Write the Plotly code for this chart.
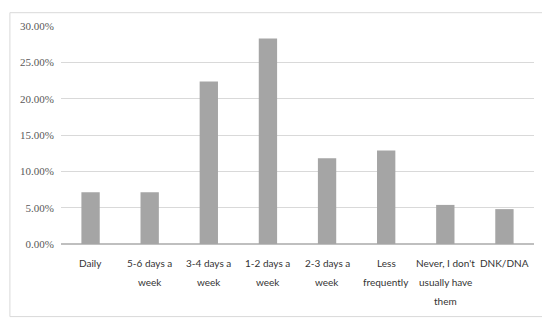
import plotly.graph_objects as go

categories = ["Daily", "5-6 days a week", "3-4 days a week", "1-2 days a week",
              "2-3 days a week", "Less frequently", "Never, I don't usually have them", "DNK/DNA"]
label_lines = [["Daily"], ["5-6 days a", "week"], ["3-4 days a", "week"], ["1-2 days a", "week"],
               ["2-3 days a", "week"], ["Less", "frequently"], ["Never, I don't", "usually have", "them"],
               ["DNK/DNA"]]
values = [0.0713, 0.0713, 0.2237, 0.2829, 0.118, 0.1287, 0.0538, 0.048]
y_ticks = [0, 0.05, 0.10, 0.15, 0.20, 0.25, 0.30]

fig = go.Figure()
fig.add_trace(go.Bar(x=categories, y=values, marker=dict(color="#a5a5a5", line=dict(width=0)),
                     hoverinfo="x+y"))

annotations = []
for cat, lines in zip(categories, label_lines):
    for i, line in enumerate(lines):
        annotations.append(dict(x=cat, xref="x", y=0, yref="paper", yanchor="middle",
                                yshift=-19 - 19 * i, text=line, showarrow=False,
                                font=dict(family="Lato", size=10, color="#333333")))

fig.update_layout(
    width=550, height=323,
    margin=dict(l=52, r=24, t=14, b=87),
    paper_bgcolor="white", plot_bgcolor="white",
    showlegend=False, bargap=0.69,
    annotations=annotations,
    shapes=[dict(type="rect", xref="paper", yref="paper", x0=-0.108, x1=1.034, y0=-0.333, y1=1.061,
                 line=dict(color="#d9d9d9", width=1), layer="above")],
    xaxis=dict(showticklabels=False, showgrid=False, zeroline=False, showline=False, ticks=""),
    yaxis=dict(range=[0, 0.30], tickvals=y_ticks, tickformat=".2%",
               showgrid=True, gridcolor="#d9d9d9", gridwidth=1, zeroline=True, zerolinecolor="#bfbfbf",
               ticks="", showline=False, ticklabelstandoff=6,
               tickfont=dict(family="Times New Roman, Liberation Serif, serif", size=11, color="#595959")),
)

fig.write_html("out.html")
